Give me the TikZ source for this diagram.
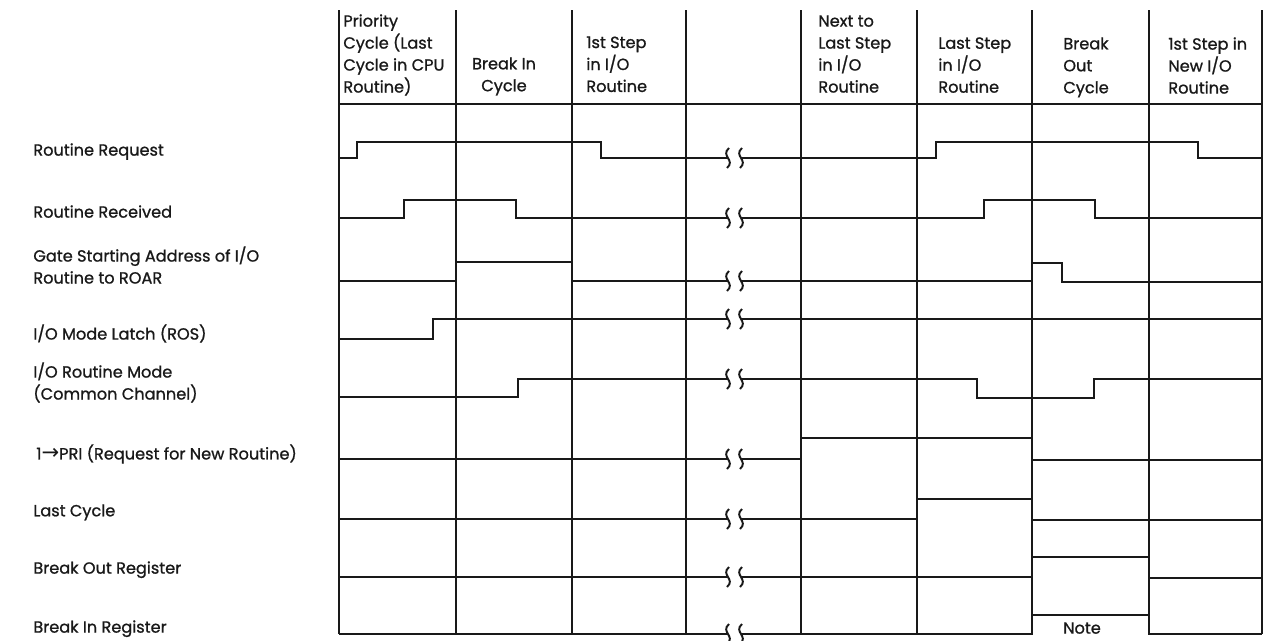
\documentclass[tikz,border=0pt]{standalone}
\usepackage{fontspec}
\setmainfont{Poppins}[FakeBold=1]
\newfontfamily\arrowfont{DejaVu Sans}
\definecolor{ink}{RGB}{25,25,25}

\begin{document}
\begin{tikzpicture}[x=0.02cm, y=-0.02cm,
  grid/.style={draw=ink, line width=1.1pt},
  sig/.style={draw=ink, line width=1.1pt, line join=miter},
  lbl/.style={anchor=north west, inner sep=0pt, text=ink, align=left,
              font=\fontsize{9.2}{12.5}\selectfont},
  hdr/.style={lbl},
]
\useasboundingbox (0,0) rectangle (1277,640);

% ---- Grid ----
\foreach \x in {339,456,572,686,801,917,1032,1149,1262}
  \draw[grid] (\x,10) -- (\x,634);
\draw[grid] (339,104) -- (1262,104);

% ---- Column headings ----
\node[hdr] (h1) at (343,14) {Priority\\Cycle (Last\\Cycle in CPU\\Routine)};
\node[hdr, anchor=north, align=center] (h2) at (504,57) {Break In\\Cycle};
\node[hdr] (h3) at (586,36) {1st Step\\in I/O\\Routine};
\node[hdr] (h5) at (818,15) {Next to\\Last Step\\in I/O\\Routine};
\node[hdr] (h6) at (938,37) {Last Step\\in I/O\\Routine};
\node[hdr] (h7) at (1063,37) {Break\\Out\\Cycle};
\node[hdr] (h8) at (1168,37) {1st Step in\\New I/O\\Routine};

% ---- Signal names ----
\node[lbl] (rreq)  at (33,143) {Routine Request};
\node[lbl] (rrec)  at (33,205) {Routine Received};
\node[lbl] (gate)  at (33,246) {Gate Starting Address of I/O\\Routine to ROAR};
\node[lbl] (latch) at (33,324) {I/O Mode Latch (ROS)};
\node[lbl] (mode)  at (33,362) {I/O Routine Mode\\(Common Channel)};
\node[lbl] (pri)   at (36,444) {1{\arrowfont\fontsize{12}{12}\selectfont →}PRI (Request for New Routine)};
\node[lbl] (last)  at (33,504) {Last Cycle};
\node[lbl] (bor)   at (33,561) {Break Out Register};
\node[lbl] (bir)   at (33,620) {Break In Register};

% ---- Waveforms (left part ends at the break, right part starts after it) ----
\draw[sig] (339,158) -- (357,158) -- (357,142) -- (601,142) -- (601,158) -- (728,158)
           (741,158) -- (936,158) -- (936,142) -- (1198,142) -- (1198,158) -- (1262,158);
\draw[sig] (339,218) -- (404,218) -- (404,200) -- (516,200) -- (516,218) -- (728,218)
           (741,218) -- (984,218) -- (984,200) -- (1095,200) -- (1095,218) -- (1262,218);
\draw[sig] (339,281) -- (456,281) -- (456,262) -- (572,262) -- (572,281) -- (728,281)
           (741,281) -- (1032,281) -- (1032,263) -- (1062,263) -- (1062,282) -- (1262,282);
\draw[sig] (339,339) -- (433,339) -- (433,319) -- (728,319)
           (741,319) -- (1262,319);
\draw[sig] (339,397) -- (518,397) -- (518,379) -- (728,379)
           (741,379) -- (977,379) -- (977,398) -- (1094,398) -- (1094,379) -- (1262,379);
\draw[sig] (339,459) -- (728,459)
           (741,459) -- (801,459) -- (801,438) -- (1032,438) -- (1032,460) -- (1262,460);
\draw[sig] (339,519) -- (728,519)
           (741,519) -- (917,519) -- (917,499) -- (1032,499) -- (1032,520) -- (1262,520);
\draw[sig] (339,577) -- (728,577)
           (741,577) -- (1032,577) -- (1032,557) -- (1149,557) -- (1149,578) -- (1262,578);
\draw[sig] (339,634) -- (728,634)
           (741,634) -- (1032,634) -- (1032,615) -- (1149,615) -- (1149,634) -- (1262,634);

% ---- Time breaks ----
\foreach \y in {158,218,281,319,379,459,519,577,634}
  \draw[sig] (729,\y-10) .. controls (720,\y-2) and (736,\y+2) .. (727,\y+10)
             (742,\y-10) .. controls (733,\y-2) and (749,\y+2) .. (740,\y+10);

\node[lbl, anchor=north] (note) at (1082,622) {Note};
\end{tikzpicture}
\end{document}
